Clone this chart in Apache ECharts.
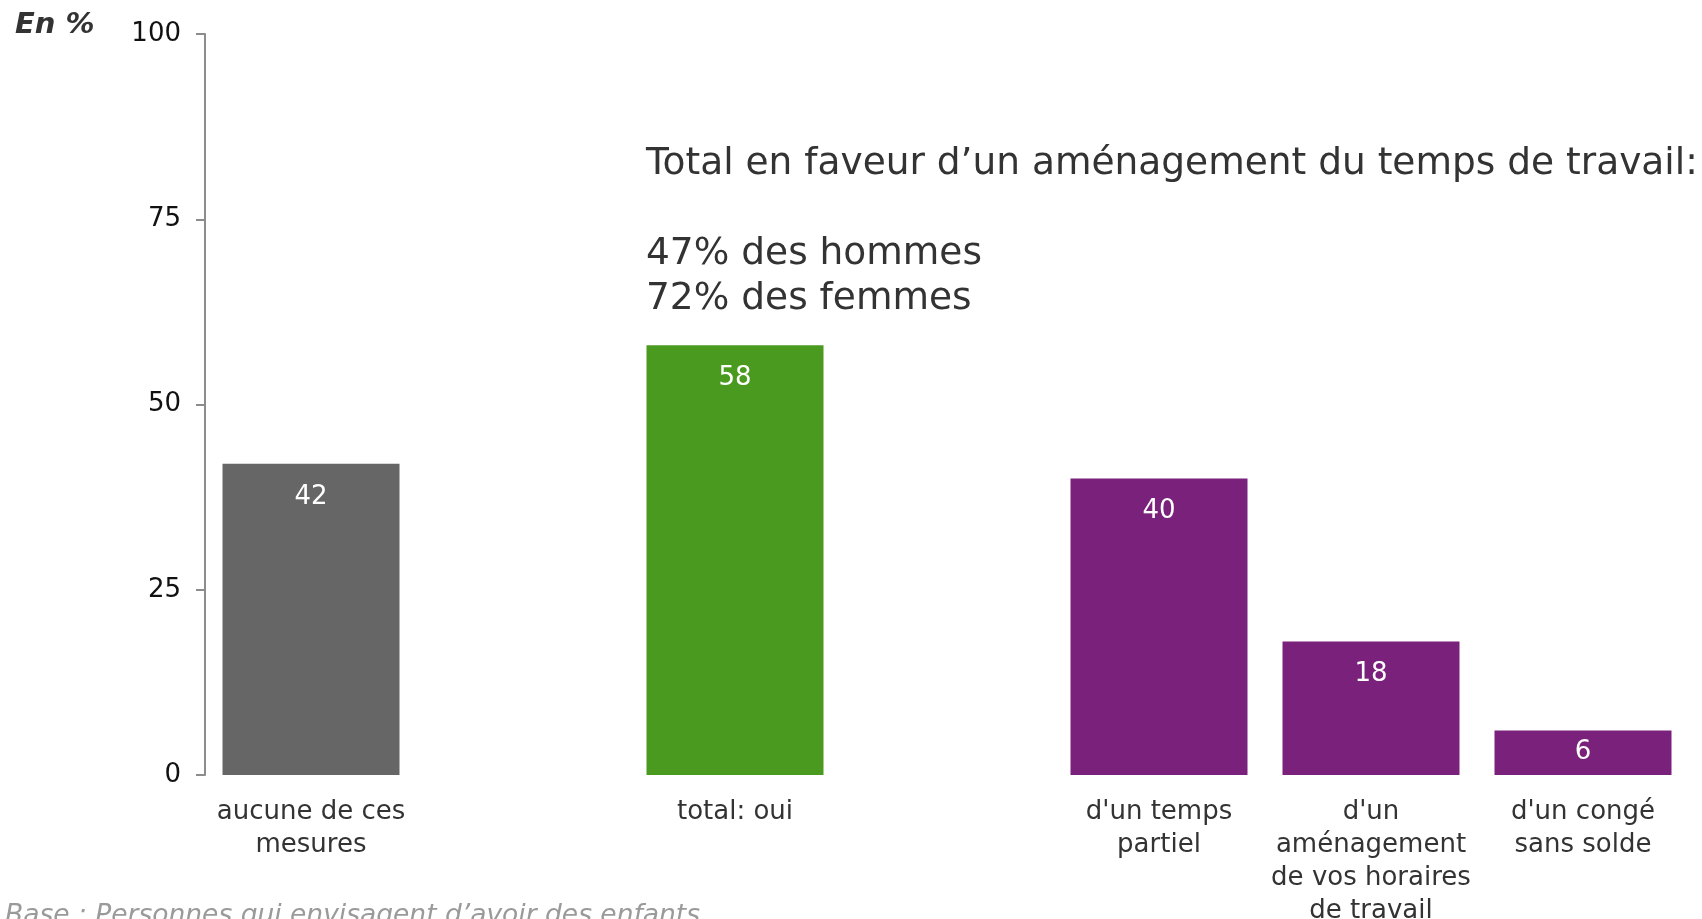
<!DOCTYPE html>
<html>
<head>
<meta charset="utf-8">
<script src="https://cdn.jsdelivr.net/npm/echarts@6/dist/echarts.min.js"></script>
<style>
  html, body { margin: 0; padding: 0; background: #fff; }
  #chart { width: 1702px; height: 919px; }
</style>
</head>
<body>
<div id="chart"></div>
<script>
// categories (empty slots = gaps between groups)
var categories = ['aucune de ces\nmesures', '', 'total: oui', '', "d'un temps\npartiel", "d'un\naménagement\nde vos horaires\nde travail", "d'un congé\nsans solde"];
var values = [42, null, 58, null, 40, 18, 6];
var groups = ['none', '', 'total', '', 'detail', 'detail', 'detail'];
var groupColors = { none: '#666666', total: '#4A9A1F', detail: '#7A227B' };
var yTicks = [0, 25, 50, 75, 100];
var noteLines = ['Total en faveur d\u2019un aménagement du temps de travail:', '', '47% des hommes', '72% des femmes'];

var font = 'DejaVu Sans, Verdana, sans-serif';
var myChart = echarts.init(document.getElementById('chart'));

myChart.setOption({
	animation: false,
	grid: { left: 205, right: 13, top: 34, bottom: 144, outerBoundsMode: 'none', containLabel: false },
	xAxis: {
		type: 'category',
		data: categories,
		axisLine: { show: false },
		axisTick: { show: false },
		axisLabel: {
			interval: 0,
			color: '#333333',
			fontFamily: font,
			fontSize: 26,
			lineHeight: 33,
			margin: 21
		}
	},
	yAxis: {
		type: 'value',
		min: yTicks[0],
		max: yTicks[yTicks.length - 1],
		interval: 25,
		splitLine: { show: false },
		axisLine: { show: true, lineStyle: { color: '#8c8c8c', width: 2 } },
		axisTick: { show: true, length: 9, lineStyle: { color: '#8c8c8c', width: 2 } },
		axisLabel: { color: '#111111', fontFamily: font, fontSize: 26, margin: 24 }
	},
	series: [{
		type: 'bar',
		barWidth: 177,
		data: values.map(function (v, i) {
			var item = { value: v, itemStyle: { color: groupColors[groups[i]] || '#666' } };
			// short bar: label sits higher so it fits
			if (v !== null && v < 10) item.label = { distance: 9 };
			return item;
		}),
		label: {
			show: true,
			position: 'insideTop',
			distance: 20,
			color: '#ffffff',
			fontFamily: font,
			fontSize: 26
		}
	}],
	graphic: [
		{
			type: 'text', left: 15, top: 11,
			style: { text: 'En %', fill: '#333333', font: 'italic bold 29px ' + font }
		},
		{
			type: 'text', left: 646, top: 142,
			style: { text: noteLines.join('\n'), fill: '#333333', font: '37.5px ' + font, lineHeight: 45 }
		},
		{
			type: 'text', left: 5, top: 903,
			style: { text: 'Base : Personnes qui envisagent d\u2019avoir des enfants', fill: '#9a9a9a', font: 'italic 26.5px ' + font }
		}
	]
});
</script>
</body>
</html>
